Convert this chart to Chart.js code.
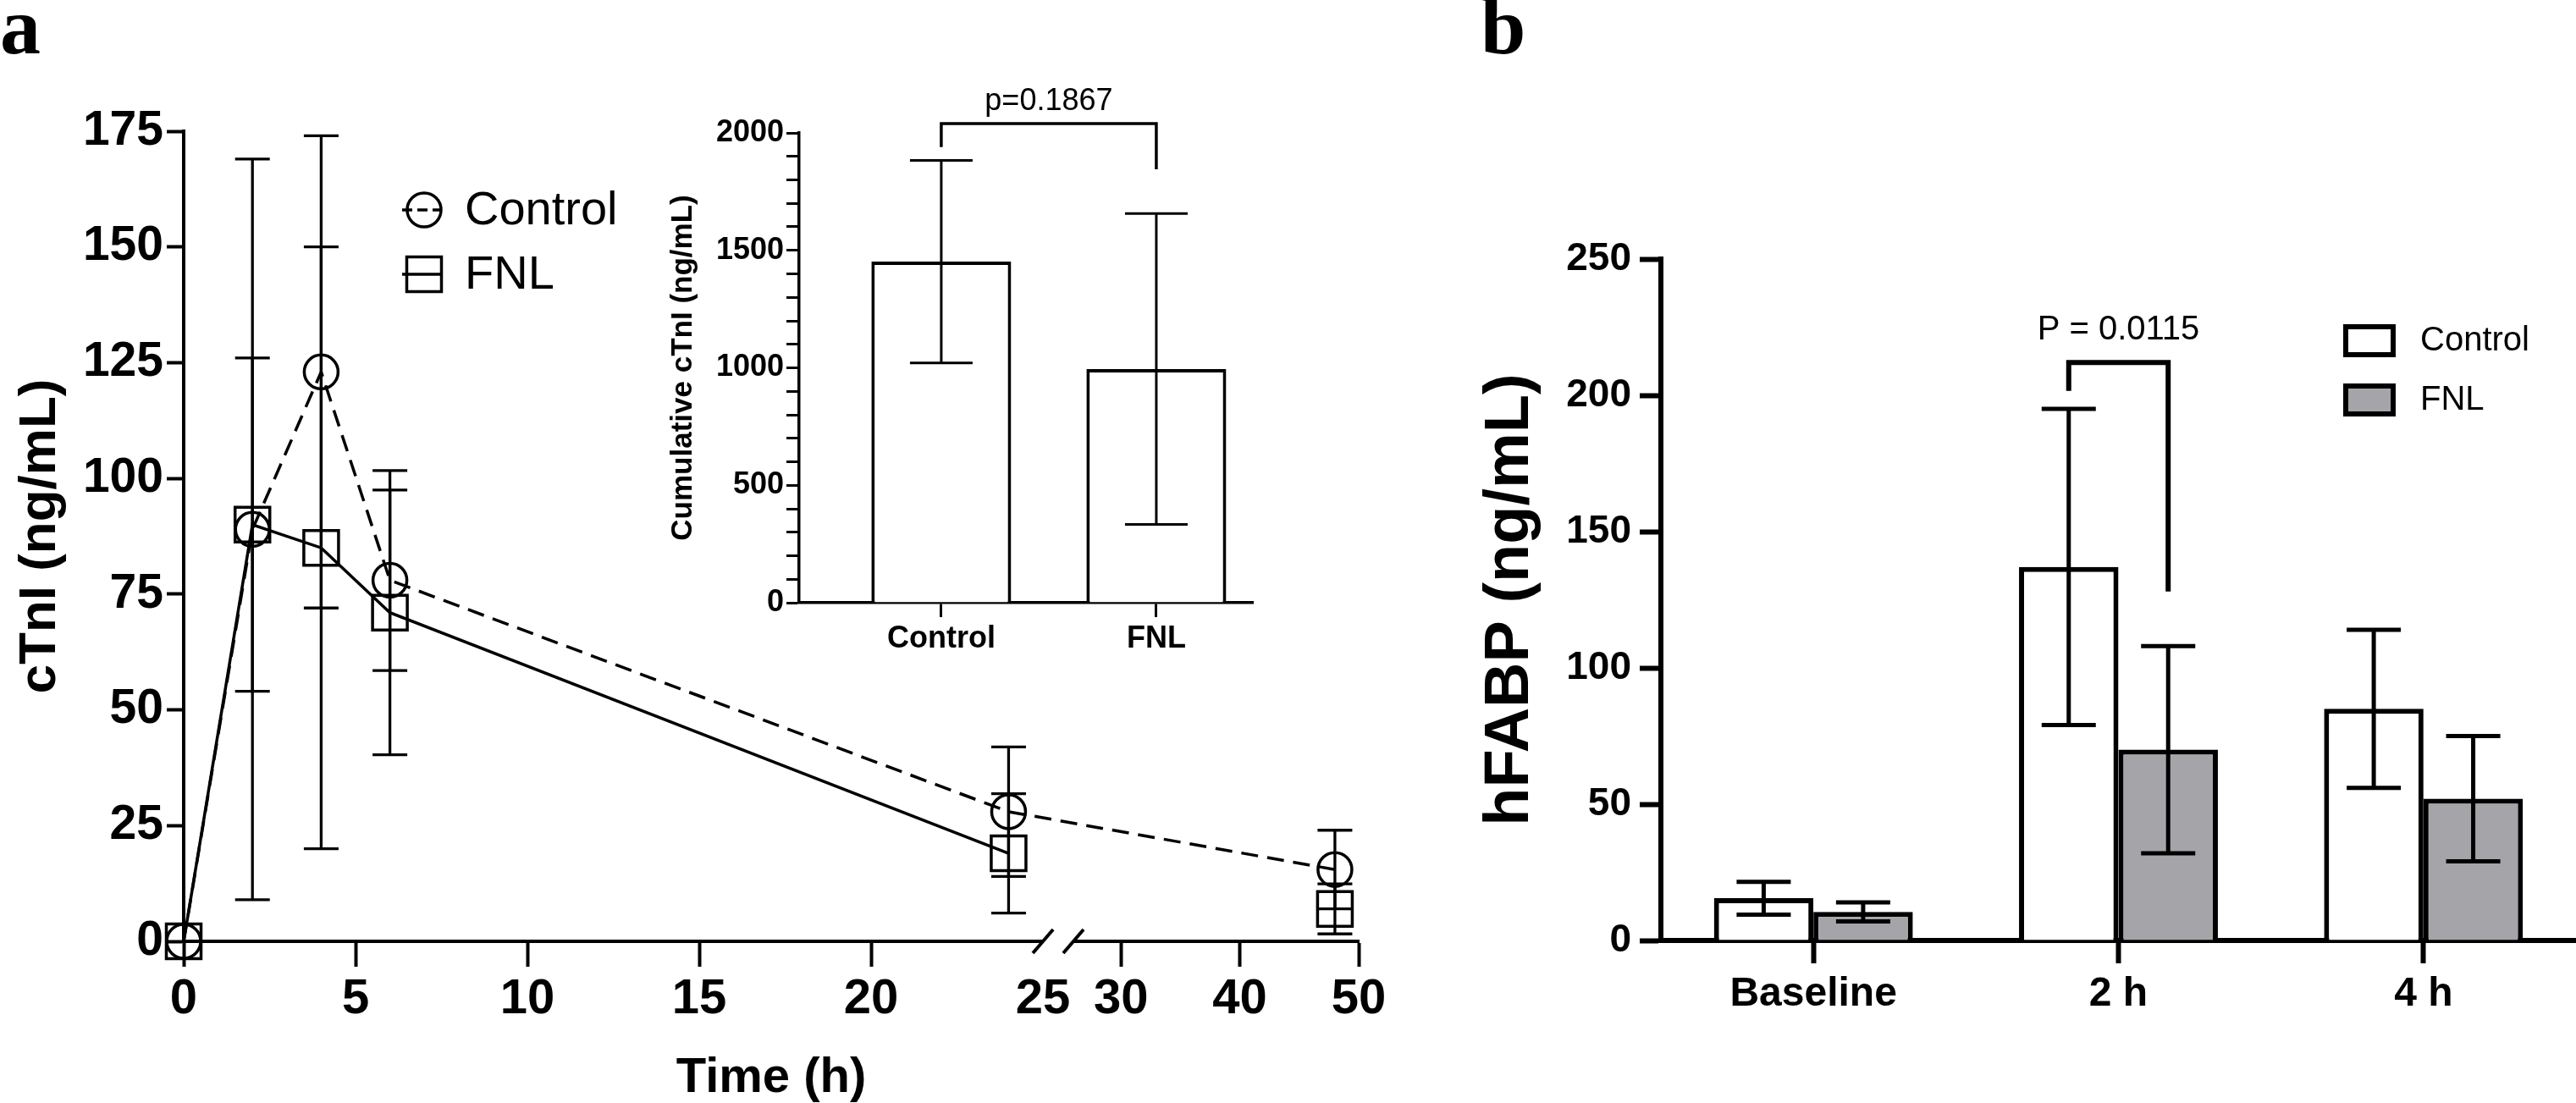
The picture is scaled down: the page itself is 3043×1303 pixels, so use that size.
<!DOCTYPE html>
<html lang="en">
<head>
  <meta charset="UTF-8">
  <title>cTnI and hFABP</title>
  <script src="https://cdn.jsdelivr.net/npm/chart.js"></script>
  <style>
    body { margin: 0; background: #fff; }
    #figure { position: relative; width: 3043px; height: 1303px; overflow: hidden; background: #fff; }
    #figure canvas { position: absolute; }
    .panel-label {
      position: absolute;
      font-family: "Liberation Serif", "Times New Roman", serif;
      font-weight: bold;
      font-size: 96px;
      line-height: 1;
    }
  </style>
</head>
<body>

<div id="figure">
  <div class="panel-label" style="left:0;top:-17px">a</div>
  <div class="panel-label" style="left:1749px;top:-17px">b</div>
  <canvas id="ctni" width="1650" height="1303" style="left:0;top:0"></canvas>
  <canvas id="cumulative" width="740" height="720" style="left:760px;top:60px"></canvas>
  <canvas id="hfabp" width="1343" height="1303" style="left:1700px;top:0"></canvas>
</div>

<script>
  // panel a: cTnI over time (mean, SD)
  const hours = [0, 2, 4, 6, 24, 48];
  const controlMean = [0, 89, 123, 78, 28, 15.5];
  const controlSD = [0, 80, 51, 19.5, 14, 8.5];
  const fnlMean = [0, 90, 85, 71, 19, 7];
  const fnlSD = [0, 36, 65, 30.7, 12.9, 5.4];
  const timeTicks = [0, 5, 10, 15, 20, 25, 30, 40, 50];

  // inset: cumulative cTnI
  const groups = ['Control', 'FNL'];
  const cumulativeMean = [1452, 995];
  const cumulativeSD = [431, 662];

  // panel b: hFABP
  const sampleTimes = ['Baseline', '2 h', '4 h'];
  const hfabpControl = [15.5, 137, 85];
  const hfabpControlSD = [6, 58, 29];
  const hfabpFnl = [10.5, 70, 52];
  const hfabpFnlSD = [3.5, 38, 23];

  const SANS = '"Liberation Sans", Arial, sans-serif';
  Chart.defaults.font.family = SANS;
  Chart.defaults.color = '#000';

  // linear axis with a gap (GraphPad style broken x axis)
  class BrokenLinearScale extends Chart.LinearScale {
    toDecimal(v) {
      const b = this.options.brk;
      if (v <= b.end1) return (v - this.min) / (b.end1 - this.min) * b.at1;
      if (v >= b.start2) return b.at2 + (v - b.start2) / (this.max - b.start2) * (1 - b.at2);
      return b.at1 + (v - b.end1) / (b.start2 - b.end1) * (b.at2 - b.at1);
    }
    getPixelForValue(v) {
      if (v === null || isNaN(v)) return NaN;
      return this.getPixelForDecimal(this.toDecimal(v));
    }
    getValueForPixel(p) {
      const b = this.options.brk;
      const d = this.getDecimalForPixel(p);
      if (d <= b.at1) return this.min + d / b.at1 * (b.end1 - this.min);
      if (d >= b.at2) return b.start2 + (d - b.at2) / (1 - b.at2) * (this.max - b.start2);
      return b.end1 + (d - b.at1) / (b.at2 - b.at1) * (b.start2 - b.end1);
    }
  }
  BrokenLinearScale.id = 'brokenLinear';
  BrokenLinearScale.defaults = Chart.LinearScale.defaults;
  Chart.register(BrokenLinearScale);

  // error bars (both directions) from dataset.errors
  const errorBars = {
    id: 'errorBars',
    afterDatasetsDraw(chart, args, o) {
      const ctx = chart.ctx;
      chart.data.datasets.forEach((ds, di) => {
        if (!ds.errors) return;
        const meta = chart.getDatasetMeta(di);
        const y = chart.scales[meta.yAxisID];
        ctx.save();
        ctx.strokeStyle = '#000';
        ctx.lineWidth = o.lineWidth;
        meta.data.forEach((el, i) => {
          const e = ds.errors[i];
          if (!e) return;
          const d = ds.data[i];
          const v = typeof d === 'object' ? d.y : d;
          const top = y.getPixelForValue(v + e);
          const bot = y.getPixelForValue(v - e);
          ctx.beginPath();
          ctx.moveTo(el.x, top);
          ctx.lineTo(el.x, bot);
          ctx.moveTo(el.x - o.cap, top);
          ctx.lineTo(el.x + o.cap, top);
          ctx.moveTo(el.x - o.cap, bot);
          ctx.lineTo(el.x + o.cap, bot);
          ctx.stroke();
        });
        ctx.restore();
      });
    }
  };

  // significance bracket between two bars
  const bracket = {
    id: 'bracket',
    afterDatasetsDraw(chart, args, o) {
      if (!o.text) return;
      const ctx = chart.ctx;
      const y = chart.scales.y;
      const xa = chart.getDatasetMeta(o.a[0]).data[o.a[1]].x;
      const xb = chart.getDatasetMeta(o.b[0]).data[o.b[1]].x;
      const yTop = y.getPixelForValue(o.y);
      ctx.save();
      ctx.strokeStyle = '#000';
      ctx.lineWidth = o.lineWidth;
      ctx.beginPath();
      ctx.moveTo(xa, y.getPixelForValue(o.ends[0]));
      ctx.lineTo(xa, yTop);
      ctx.lineTo(xb, yTop);
      ctx.lineTo(xb, y.getPixelForValue(o.ends[1]));
      ctx.stroke();
      ctx.font = o.font;
      ctx.fillStyle = '#000';
      ctx.textAlign = 'center';
      ctx.textBaseline = 'middle';
      ctx.fillText(o.text, (xa + xb) / 2, y.getPixelForValue(o.textY));
      ctx.restore();
    }
  };

  // slashes on the broken x axis
  const axisBreak = {
    id: 'axisBreak',
    afterDraw(chart, args, o) {
      const ctx = chart.ctx;
      const x = chart.scales.x;
      const p1 = x.getPixelForValue(o.end1);
      const p2 = x.getPixelForValue(o.start2);
      const y0 = x.top;
      ctx.save();
      ctx.fillStyle = '#fff';
      ctx.fillRect(p1, y0 - 4, p2 - p1, 8);
      ctx.strokeStyle = '#000';
      ctx.lineWidth = 4;
      [p1, p2].forEach(p => {
        ctx.beginPath();
        ctx.moveTo(p - 12, y0 + 14);
        ctx.lineTo(p + 12, y0 - 14);
        ctx.stroke();
      });
      ctx.restore();
    }
  };

  // legend with symbol and line through it
  const symbolLegend = {
    id: 'symbolLegend',
    afterDraw(chart, args, o) {
      const ctx = chart.ctx;
      chart.data.datasets.forEach((ds, i) => {
        const x = o.x, y = o.y + i * o.gap;
        ctx.save();
        ctx.strokeStyle = '#000';
        ctx.fillStyle = 'rgba(0,0,0,0)';
        ctx.lineWidth = ds.borderWidth;
        ctx.setLineDash(ds.borderDash ? [12, 6] : []);
        ctx.beginPath();
        ctx.moveTo(x - 26, y);
        ctx.lineTo(x + 20, y);
        ctx.stroke();
        ctx.setLineDash([]);
        Chart.helpers.drawPoint(ctx, {
          pointStyle: ds.pointStyle, radius: ds.pointRadius, borderWidth: ds.pointBorderWidth, rotation: 0
        }, x, y);
        ctx.fillStyle = '#000';
        ctx.font = o.font;
        ctx.textBaseline = 'middle';
        ctx.fillText(ds.label, x + 48, y + 2);
        ctx.restore();
      });
    }
  };

  // legend with filled boxes
  const boxLegend = {
    id: 'boxLegend',
    afterDraw(chart, args, o) {
      const ctx = chart.ctx;
      chart.data.datasets.forEach((ds, i) => {
        const y = o.y + i * o.gap;
        ctx.save();
        ctx.fillStyle = ds.backgroundColor;
        ctx.strokeStyle = '#000';
        ctx.lineWidth = ds.borderWidth;
        ctx.fillRect(o.x, y, o.w, o.h);
        ctx.strokeRect(o.x, y, o.w, o.h);
        ctx.fillStyle = '#000';
        ctx.font = o.font;
        ctx.textBaseline = 'middle';
        ctx.fillText(ds.label, o.x + o.w + 32, y + o.h / 2);
        ctx.restore();
      });
    }
  };

  // ---- panel a ----
  new Chart(document.getElementById('ctni'), {
    type: 'line',
    data: {
      datasets: [
        {
          label: 'Control',
          data: hours.map((h, i) => ({x: h, y: controlMean[i]})),
          errors: controlSD,
          borderColor: '#000',
          borderWidth: 3.5,
          borderDash: [20, 11],
          pointStyle: 'circle',
          pointRadius: 20,
          pointBorderWidth: 3.5,
          pointBorderColor: '#000',
          pointBackgroundColor: 'rgba(0,0,0,0)',
          clip: false
        },
        {
          label: 'FNL',
          data: hours.map((h, i) => ({x: h, y: fnlMean[i]})),
          errors: fnlSD,
          borderColor: '#000',
          borderWidth: 3.5,
          pointStyle: 'rect',
          pointRadius: 29,
          pointBorderWidth: 3.5,
          pointBorderColor: '#000',
          pointBackgroundColor: 'rgba(0,0,0,0)',
          clip: false,
          segment: {
            // GraphPad drops the FNL line across the axis break
            borderColor: c => hours[c.p1DataIndex] > 25 ? 'rgba(0,0,0,0)' : '#000'
          }
        }
      ]
    },
    options: {
      responsive: false,
      animation: false,
      devicePixelRatio: 1,
      events: [],
      layout: {padding: {top: 155, right: 45, left: 0, bottom: 0}},
      scales: {
        x: {
          type: 'brokenLinear',
          min: 0,
          max: 50,
          brk: {end1: 25, start2: 26, at1: 0.7313, at2: 0.7572},
          afterBuildTicks: s => { s.ticks = timeTicks.map(v => ({value: v})); },
          afterFit: s => { s.height = 191; },
          ticks: {autoSkip: false, maxRotation: 0, padding: 4, color: '#000',
                  font: {weight: 'bold', size: 58}},
          grid: {drawOnChartArea: false, tickLength: 30, tickWidth: 4,
                 tickColor: c => (c.tick && c.tick.value === 25) ? 'rgba(0,0,0,0)' : '#000'},
          border: {color: '#000', width: 4},
          title: {display: true, text: 'Time (h)', color: '#000', padding: 0,
                  font: {weight: 'bold', size: 58, lineHeight: 1}}
        },
        y: {
          min: 0,
          max: 175,
          afterFit: s => { s.width = 217; },
          ticks: {stepSize: 25, padding: 4, color: '#000', font: {weight: 'bold', size: 57}},
          grid: {drawOnChartArea: false, tickLength: 20, tickWidth: 4, tickColor: '#000'},
          border: {color: '#000', width: 4},
          title: {display: true, text: 'cTnI (ng/mL)', color: '#000', padding: {top: 11},
                  font: {weight: 'bold', size: 62}}
        }
      },
      plugins: {
        legend: {display: false},
        tooltip: {enabled: false},
        errorBars: {lineWidth: 3.3, cap: 20.5},
        axisBreak: {end1: 25, start2: 26},
        symbolLegend: {x: 501, y: 248, gap: 76, font: '56px ' + SANS}
      }
    },
    plugins: [errorBars, axisBreak, symbolLegend]
  });

  // ---- inset ----
  new Chart(document.getElementById('cumulative'), {
    type: 'bar',
    data: {
      datasets: [{
        label: 'Cumulative cTnI',
        data: groups.map((g, i) => ({x: i, y: cumulativeMean[i]})),
        errors: cumulativeSD,
        backgroundColor: '#fff',
        borderColor: '#000',
        borderWidth: 4,
        borderSkipped: 'start',
        barPercentage: 0.65,
        categoryPercentage: 1
      }]
    },
    options: {
      responsive: false,
      animation: false,
      devicePixelRatio: 1,
      events: [],
      layout: {padding: {top: 97, right: 20, left: 0, bottom: 0}},
      scales: {
        x: {
          type: 'linear',
          min: -0.661,
          max: 1.449,
          offset: false,
          afterBuildTicks: s => { s.ticks = groups.map((g, i) => ({value: i})); },
          afterFit: s => { s.height = 68; },
          ticks: {autoSkip: false, maxRotation: 0, padding: 4, color: '#000',
                  callback: (v, i) => groups[i], font: {weight: 'bold', size: 36}},
          grid: {offset: false, drawOnChartArea: false, tickLength: 17, tickWidth: 3, tickColor: '#000'},
          border: {color: '#000', width: 3.5}
        },
        y: {
          min: 0,
          max: 2000,
          afterBuildTicks: s => {
            const t = [];
            for (let v = 0; v <= 2000; v += 100) t.push({value: v});
            s.ticks = t;
          },
          afterFit: s => { s.width = 184; },
          ticks: {autoSkip: false, padding: 3, color: '#000',
                  callback: v => (v % 500 === 0 ? String(v) : ''), font: {weight: 'bold', size: 36}},
          grid: {drawOnChartArea: false, tickLength: 15, tickWidth: 3, tickColor: '#000'},
          border: {color: '#000', width: 3.5},
          title: {display: true, text: 'Cumulative cTnI (ng/mL)', color: '#000', padding: {top: 26},
                  font: {weight: 'bold', size: 35}}
        }
      },
      plugins: {
        legend: {display: false},
        tooltip: {enabled: false},
        errorBars: {lineWidth: 3, cap: 37},
        bracket: {a: [0, 0], b: [0, 1], y: 2040, ends: [1940, 1845], textY: 2133,
                  text: 'p=0.1867', lineWidth: 3.5, font: '36px ' + SANS}
      }
    },
    plugins: [errorBars, bracket]
  });

  // ---- panel b ----
  new Chart(document.getElementById('hfabp'), {
    type: 'bar',
    data: {
      labels: sampleTimes,
      datasets: [
        {
          label: 'Control',
          data: hfabpControl,
          errors: hfabpControlSD,
          backgroundColor: '#ffffff',
          borderColor: '#000',
          borderWidth: 6,
          borderSkipped: 'start'
        },
        {
          label: 'FNL',
          data: hfabpFnl,
          errors: hfabpFnlSD,
          backgroundColor: '#a5a5a9',
          borderColor: '#000',
          borderWidth: 6,
          borderSkipped: 'start'
        }
      ]
    },
    options: {
      responsive: false,
      animation: false,
      devicePixelRatio: 1,
      events: [],
      datasets: {bar: {categoryPercentage: 0.652, barPercentage: 1}},
      layout: {padding: {top: 306, right: 0, left: 0, bottom: 0}},
      scales: {
        x: {
          afterFit: s => { s.height = 192; },
          ticks: {padding: 8, color: '#000', font: {weight: 'bold', size: 48}},
          grid: {offset: false, drawOnChartArea: false, tickLength: 27, tickWidth: 6, tickColor: '#000'},
          border: {color: '#000', width: 6}
        },
        y: {
          min: 0,
          max: 250,
          afterFit: s => { s.width = 262; },
          ticks: {stepSize: 50, padding: 10, color: '#000', font: {weight: 'bold', size: 46}},
          grid: {drawOnChartArea: false, tickLength: 25, tickWidth: 6, tickColor: '#000'},
          border: {color: '#000', width: 6},
          title: {display: true, text: 'hFABP (ng/mL)', color: '#000', padding: {top: 40},
                  font: {weight: 'bold', size: 74}}
        }
      },
      plugins: {
        legend: {display: false},
        tooltip: {enabled: false},
        errorBars: {lineWidth: 5, cap: 32},
        bracket: {a: [0, 1], b: [1, 1], y: 212, ends: [201.6, 128], textY: 224,
                  text: 'P = 0.0115', lineWidth: 6, font: '40px ' + SANS},
        boxLegend: {x: 1071, y: 386, w: 56, h: 33, gap: 70, font: '40px ' + SANS}
      }
    },
    plugins: [errorBars, bracket, boxLegend]
  });
</script>

</body>
</html>
